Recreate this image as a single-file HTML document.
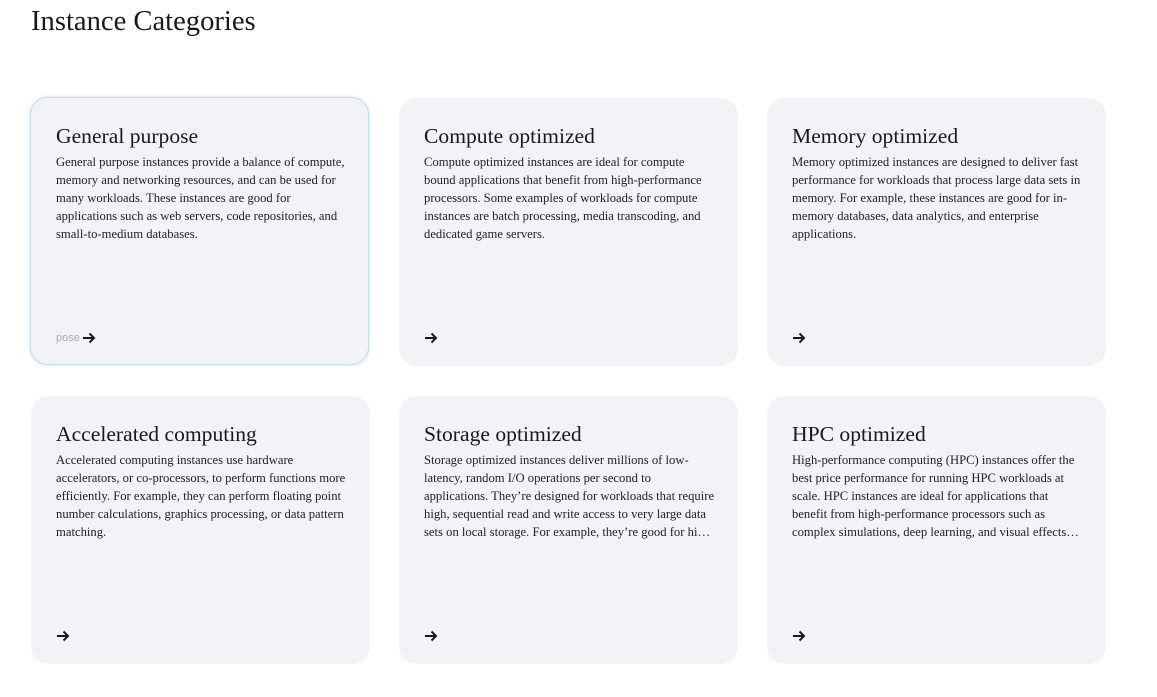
<!DOCTYPE html>
<html><head><meta charset="utf-8"><style>
body{margin:0;width:1157px;height:697px;background:#fff;font-family:"Liberation Serif",serif;color:#16191f;position:relative;overflow:hidden}
h1{position:absolute;left:31px;top:4px;margin:0;font-weight:normal;font-size:28.6px;line-height:36px}
.card{position:absolute;width:339px;height:268px;background:#f2f2f7;border-radius:18px;box-sizing:border-box}
.card.sel{border:1.5px solid #bfe3e6;box-shadow:0 0 3px #b8d8f0}
.t{position:absolute;left:25px;top:23px;font-size:21.6px;line-height:30px;white-space:nowrap}
.d{position:absolute;left:25px;top:55px;font-size:12.65px;line-height:18px;color:#232323;white-space:nowrap}
.a{position:absolute;left:25px;top:233px;height:14px;display:flex;align-items:center}
.p{font-family:"Liberation Sans",sans-serif;font-size:11px;color:#aaa;margin-right:2px}
</style></head><body>
<h1>Instance Categories</h1>
<div class="card sel" style="left:30px;top:97px"><div class="t">General purpose</div><div class="d">General purpose instances provide a balance of compute,<br>memory and networking resources, and can be used for<br>many workloads. These instances are good for<br>applications such as web servers, code repositories, and<br>small-to-medium databases.</div><div class="a"><span class="p">pose</span><svg width="14" height="12" viewBox="0 0 14 12"><path d="M1 6H12M7.5 1.5L12 6L7.5 10.5" stroke="#16191f" stroke-width="2" fill="none"/></svg></div></div>
<div class="card" style="left:399px;top:98px"><div class="t">Compute optimized</div><div class="d">Compute optimized instances are ideal for compute<br>bound applications that benefit from high-performance<br>processors. Some examples of workloads for compute<br>instances are batch processing, media transcoding, and<br>dedicated game servers.</div><div class="a"><svg width="14" height="12" viewBox="0 0 14 12"><path d="M1 6H12M7.5 1.5L12 6L7.5 10.5" stroke="#16191f" stroke-width="2" fill="none"/></svg></div></div>
<div class="card" style="left:767px;top:98px"><div class="t">Memory optimized</div><div class="d">Memory optimized instances are designed to deliver fast<br>performance for workloads that process large data sets in<br>memory. For example, these instances are good for in-<br>memory databases, data analytics, and enterprise<br>applications.</div><div class="a"><svg width="14" height="12" viewBox="0 0 14 12"><path d="M1 6H12M7.5 1.5L12 6L7.5 10.5" stroke="#16191f" stroke-width="2" fill="none"/></svg></div></div>
<div class="card" style="left:31px;top:396px"><div class="t">Accelerated computing</div><div class="d">Accelerated computing instances use hardware<br>accelerators, or co-processors, to perform functions more<br>efficiently. For example, they can perform floating point<br>number calculations, graphics processing, or data pattern<br>matching.</div><div class="a"><svg width="14" height="12" viewBox="0 0 14 12"><path d="M1 6H12M7.5 1.5L12 6L7.5 10.5" stroke="#16191f" stroke-width="2" fill="none"/></svg></div></div>
<div class="card" style="left:399px;top:396px"><div class="t">Storage optimized</div><div class="d">Storage optimized instances deliver millions of low-<br>latency, random I/O operations per second to<br>applications. They’re designed for workloads that require<br>high, sequential read and write access to very large data<br>sets on local storage. For example, they’re good for hi…</div><div class="a"><svg width="14" height="12" viewBox="0 0 14 12"><path d="M1 6H12M7.5 1.5L12 6L7.5 10.5" stroke="#16191f" stroke-width="2" fill="none"/></svg></div></div>
<div class="card" style="left:767px;top:396px"><div class="t">HPC optimized</div><div class="d">High-performance computing (HPC) instances offer the<br>best price performance for running HPC workloads at<br>scale. HPC instances are ideal for applications that<br>benefit from high-performance processors such as<br>complex simulations, deep learning, and visual effects…</div><div class="a"><svg width="14" height="12" viewBox="0 0 14 12"><path d="M1 6H12M7.5 1.5L12 6L7.5 10.5" stroke="#16191f" stroke-width="2" fill="none"/></svg></div></div>
</body></html>
